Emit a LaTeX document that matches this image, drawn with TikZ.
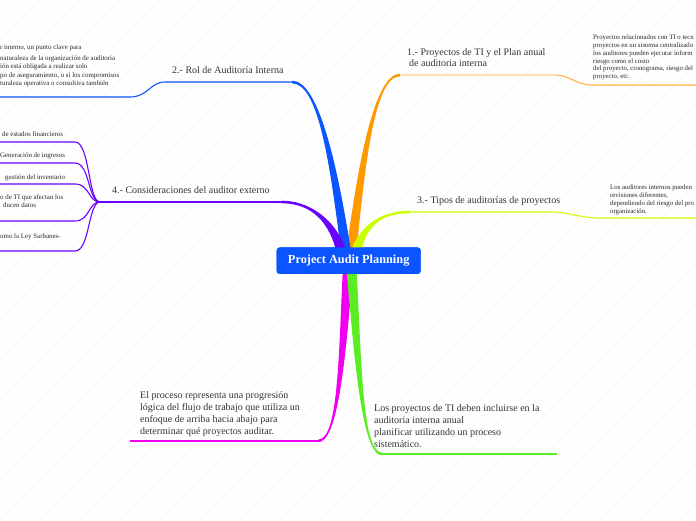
\documentclass[tikz,border=0pt]{standalone}
\usepackage{fontspec}
\setmainfont{Liberation Serif}
\usetikzlibrary{calc}
\definecolor{mapblue}{HTML}{0A55FF}
\definecolor{maporange}{HTML}{FF9900}
\definecolor{mappurple}{HTML}{6A00FF}
\definecolor{maplime}{HTML}{CCFF00}
\definecolor{mapmagenta}{HTML}{F000F0}
\definecolor{mapgreen}{HTML}{5AEE22}
\definecolor{maptext}{HTML}{333333}
\newcommand{\limb}[6]{%
  \fill[#1] ($(#2)+(-5,0)$) .. controls ($(#3)+(-3.5,0)$) and ($(#4)+(0,#6)$) .. ($(#5)+(0,#6)$)
    -- ($(#5)+(0,{-(#6)})$) .. controls ($(#4)+(0,{-(#6)})$) and ($(#3)+(3.5,0)$) .. ($(#2)+(5,0)$) -- cycle;}

\begin{document}
\begin{tikzpicture}[x=1pt, y=-1pt,
    topic/.style={font=\fontsize{10}{11.5}\selectfont, text=maptext, inner sep=0pt, align=left},
    story/.style={font=\fontsize{10}{12}\selectfont, text=maptext, inner sep=0pt, align=left},
    memo/.style={font=\fontsize{6.8}{7.7}\selectfont, text=black!85, inner sep=0pt, align=left},
    sidememo/.style={font=\fontsize{6.9}{8.4}\selectfont, text=black!85, inner sep=0pt, align=left},
    root/.style={fill=mapblue, rounded corners=3pt, text=white,
        font=\bfseries\fontsize{12.3}{14}\selectfont,
        minimum width=144pt, minimum height=26.5pt, inner sep=0pt},
    rule/.style={line width=1.1pt}
]
\useasboundingbox (0,0) rectangle (696,520);
\clip (0,0) rectangle (696,520);
\foreach \k in {-520,-510,...,700}
    \draw[black!3, line width=0.4pt] (\k,520) -- (\k+520,0);

\node[root] (root) at (348.7,260.7) {Project Audit Planning};

\coordinate (s1) at ($(root.north)+(3,2)$);
\coordinate (s2) at ($(root.north)+(-3,2)$);
\coordinate (s3) at ($(root.north)+(8,2)$);
\coordinate (s4) at ($(root.north)+(-8,2)$);
\coordinate (s5) at ($(root.south)+(-1,-2)$);
\coordinate (s6) at ($(root.south)+(3,-2)$);
\coordinate (e1) at (400,75);
\coordinate (e2) at (292,82);
\coordinate (e3) at (410,212);
\coordinate (e4) at (282,202);
\coordinate (e5) at (318,441);
\coordinate (e6) at (382,454);
\coordinate (fan) at (100,202);

\node[topic, anchor=north west] (h1) at (407,48) {1.- Proyectos de TI y el Plan anual\\\hspace{2pt}de auditoria interna};
\node[topic, anchor=base west] (h2) at (172,73) {2.- Rol de Auditoría Interna};
\node[topic, anchor=base west] (h3) at (417,203) {3.- Tipos de auditorías de proyectos};
\node[topic, anchor=base west] (h4) at (112,193) {4.- Consideraciones del auditor externo};
\node[story, anchor=north west] (h5) at (140,391.5) {El proceso representa una progresión\\lógica del flujo de trabajo que utiliza un\\enfoque de arriba hacia abajo para\\determinar qué proyectos auditar.};
\node[story, anchor=north west] (h6) at (374,404.5) {Los proyectos de TI deben incluirse en la\\auditoria interna anual\\planificar utilizando un proceso\\sistemático.};

\node[memo, anchor=north west] (n1) at (593,35) {Proyectos relacionados con TI o tecn\\proyectos en un sistema centralizado\\los auditores pueden ejecutar inform\\riesgo como el costo\\del proyecto, cronograma, riesgo del\\proyecto, etc.};
\node[memo, anchor=north west] (n2) at (610,185) {Los auditores internos pueden\\revisiones diferentes,\\dependiendo del riesgo del pro\\organización.};
\node[sidememo, anchor=north west] (n3) at (0,44.5) {r interno, un punto clave para\\[2.5pt]naturaleza de la organización de auditoria\\ión está obligada a realizar solo\\po de aseguramiento, o si los compromisos\\turaleza operativa o consultiva también};
\node[sidememo, anchor=base west] (p1) at (2,136) {de estados financieros};
\node[sidememo, anchor=base west] (p2) at (0,157) {Generación de ingresos};
\node[sidememo, anchor=base west] (p3) at (5,179) {gestión del inventario};
\node[sidememo, anchor=north west] (p4) at (0,194.5) {o de TI que afectan los\\\hspace{3pt}ducen datos};
\node[sidememo, anchor=base west] (p5) at (0,238.5) {omo la Ley Sarbanes-};

\limb{maporange}{s1}{362,160}{375,75}{e1}{-1.3}
\limb{mapblue}{s2}{333,160}{318,82}{e2}{1.3}
\limb{maplime}{s3}{365,222}{385,212}{e3}{-1.3}
\limb{mappurple}{s4}{330,215}{305,202}{e4}{1.3}
\limb{mapmagenta}{s5}{342,360}{338,441}{e5}{-1.3}
\limb{mapgreen}{s6}{358,360}{362,454}{e6}{1.3}

\draw[rule, maporange!30] (e1) -- (555,75);
\draw[rule, maporange!75] (555,75) .. controls (570,75) and (576,85) .. (592,85) -- (696,85);
\draw[rule, mapblue] (e2) -- (165,82) .. controls (150,82) and (148,97) .. (130,97) -- (0,97);
\draw[rule, maplime] (e3) -- (552,212) .. controls (568,212) and (580,218) .. (600,218) -- (696,218);
\draw[rule, mappurple] (e4) -- (fan);
\foreach \y in {142,163,184,221,251}
    \draw[rule, mappurple] (fan) .. controls (88,202) and (90,\y) .. (75,\y) -- (0,\y);
\draw[rule, mapmagenta] (e5) -- (130,441);
\draw[rule, mapgreen] (e6) -- (557,454);

\node[root] at (root) {Project Audit Planning};
\end{tikzpicture}
\end{document}
